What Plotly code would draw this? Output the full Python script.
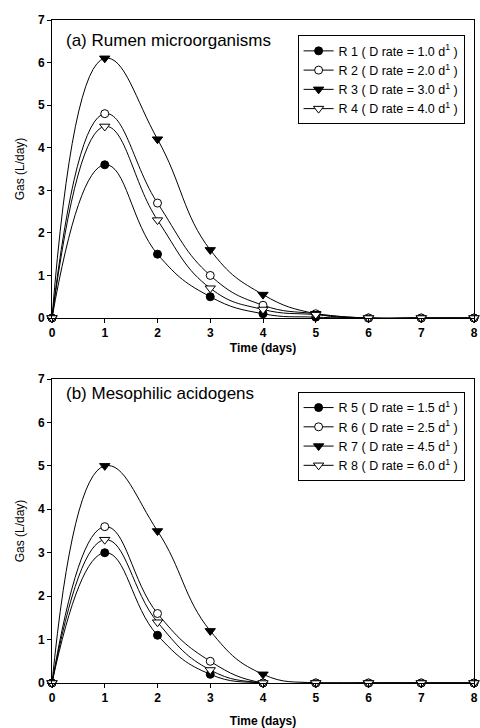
import plotly.graph_objects as go
from plotly.subplots import make_subplots

time_days = [0, 1, 2, 3, 4, 5, 6, 7, 8]

# Panel (a) Rumen microorganisms
r1 = [0, 3.6, 1.5, 0.5, 0.1, 0.02, 0, 0, 0]
r2 = [0, 4.8, 2.7, 1.0, 0.3, 0.1, 0, 0, 0]
r3 = [0, 6.1, 4.2, 1.6, 0.55, 0.1, 0, 0, 0]
r4 = [0, 4.5, 2.3, 0.7, 0.2, 0.08, 0, 0, 0]
names_a = ["R 1 ( D rate = 1.0 d<sup>1</sup> )", "R 2 ( D rate = 2.0 d<sup>1</sup> )",
           "R 3 ( D rate = 3.0 d<sup>1</sup> )", "R 4 ( D rate = 4.0 d<sup>1</sup> )"]

# Panel (b) Mesophilic acidogens
r5 = [0, 3.0, 1.1, 0.2, 0, 0, 0, 0, 0]
r6 = [0, 3.6, 1.6, 0.5, 0, 0, 0, 0, 0]
r7 = [0, 5.0, 3.5, 1.2, 0.2, 0, 0, 0, 0]
r8 = [0, 3.3, 1.4, 0.3, 0, 0, 0, 0, 0]
names_b = ["R 5 ( D rate = 1.5 d<sup>1</sup> )", "R 6 ( D rate = 2.5 d<sup>1</sup> )",
           "R 7 ( D rate = 4.5 d<sup>1</sup> )", "R 8 ( D rate = 6.0 d<sup>1</sup> )"]

marker_styles = [
    dict(symbol="circle", color="black", size=8, line=dict(color="black", width=1)),
    dict(symbol="circle", color="white", size=8, line=dict(color="black", width=1)),
    dict(symbol="triangle-down", color="black", size=9, line=dict(color="black", width=1)),
    dict(symbol="triangle-down", color="white", size=9, line=dict(color="black", width=1)),
]

FONT = "Liberation Sans, Arial, sans-serif"

fig = make_subplots(rows=2, cols=1, vertical_spacing=0.0)

for i, (ys, nm) in enumerate(zip([r1, r2, r3, r4], names_a)):
    fig.add_trace(go.Scatter(x=time_days, y=ys, name=nm, mode="lines+markers",
                             line=dict(color="black", width=1, shape="spline", smoothing=1.3),
                             marker=marker_styles[i], cliponaxis=False,
                             legend="legend"), row=1, col=1)
for i, (ys, nm) in enumerate(zip([r5, r6, r7, r8], names_b)):
    fig.add_trace(go.Scatter(x=time_days, y=ys, name=nm, mode="lines+markers",
                             line=dict(color="black", width=1, shape="spline", smoothing=1.3),
                             marker=marker_styles[i], cliponaxis=False,
                             legend="legend2"), row=2, col=1)

axis_common = dict(showline=True, linecolor="black", linewidth=1, mirror=True,
                   ticks="outside", ticklen=4, tickcolor="black", showgrid=False,
                   zeroline=False,
                   tickfont=dict(family=FONT, size=12, color="black", weight="bold"))

fig.update_xaxes(range=[0, 8], dtick=1, ticklabeloverflow="allow", **axis_common)
fig.update_yaxes(range=[0, 7], dtick=1, **axis_common)

fig.update_layout(
    width=480, height=728,
    margin=dict(l=52, r=2, t=20, b=45),
    paper_bgcolor="white", plot_bgcolor="white",
    font=dict(family=FONT, color="black"),
    xaxis=dict(domain=[0, 1], title=dict(text="Time (days)", standoff=4,
               font=dict(family=FONT, size=12, weight="bold"))),
    xaxis2=dict(domain=[0, 1], title=dict(text="Time (days)", standoff=12,
                font=dict(family=FONT, size=12, weight="bold"))),
    yaxis=dict(domain=[0.5505, 1.0], title=dict(text="Gas (L/day)", standoff=10,
               font=dict(family=FONT, size=12))),
    yaxis2=dict(domain=[0.0, 0.4585], title=dict(text="Gas (L/day)", standoff=10,
                font=dict(family=FONT, size=12))),
    legend=dict(x=0.582, y=0.977, xanchor="left", yanchor="top",
                bordercolor="black", borderwidth=1, bgcolor="white",
                font=dict(family=FONT, size=12.5), tracegroupgap=0,
                itemwidth=30),
    legend2=dict(x=0.582, y=0.439, xanchor="left", yanchor="top",
                 bordercolor="black", borderwidth=1, bgcolor="white",
                 font=dict(family=FONT, size=12.5), tracegroupgap=0,
                 itemwidth=30),
    showlegend=True,
    annotations=[
        dict(text="(a) Rumen microorganisms", xref="paper", yref="paper",
             x=0.028, y=0.969, xanchor="left", yanchor="middle", showarrow=False,
             font=dict(family=FONT, size=17, color="black")),
        dict(text="(b) Mesophilic acidogens", xref="paper", yref="paper",
             x=0.028, y=0.436, xanchor="left", yanchor="middle", showarrow=False,
             font=dict(family=FONT, size=17, color="black")),
    ],
)

fig.write_html("out.html")
